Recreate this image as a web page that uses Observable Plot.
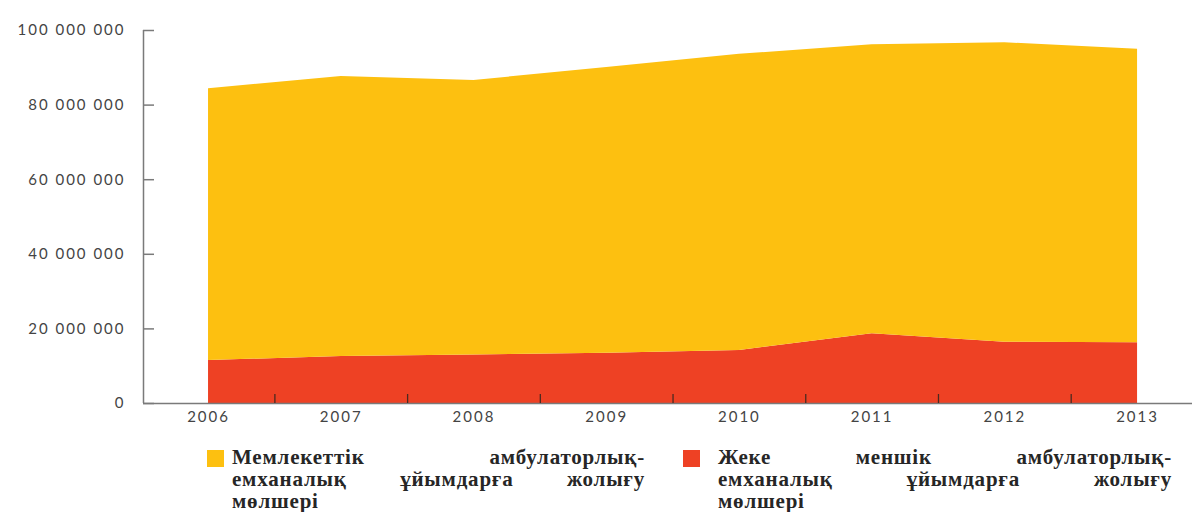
<!DOCTYPE html>
<html>
<head>
<meta charset="utf-8">
<script src="https://cdn.jsdelivr.net/npm/d3@7"></script>
<script src="https://cdn.jsdelivr.net/npm/@observablehq/plot@0.6"></script>
<style>
  html, body { margin: 0; padding: 0; background: #fff; overflow: hidden; }
  #chart svg { display: block; }
  .legend { position: relative; height: 80px; font-family: "Liberation Serif", "Times New Roman", serif; font-size: 21px; font-weight: bold; color: #262626; letter-spacing: 0.8px; }
  .swatch { position: absolute; width: 17px; height: 17px; }
  .text { position: absolute; }
  .line { display: flex; justify-content: space-between; height: 22px; line-height: 22px; white-space: nowrap; }
  .line.last { justify-content: flex-start; }
</style>
</head>
<body>
<div id="chart"></div>
<div class="legend" id="legend"></div>
<script>
const years = [2006, 2007, 2008, 2009, 2010, 2011, 2012, 2013];
const privateVisits = [11.5e6, 12.6e6, 13.0e6, 13.5e6, 14.2e6, 18.7e6, 16.4e6, 16.3e6];
const stateVisits   = [72.9e6, 75.1e6, 73.6e6, 76.6e6, 79.4e6, 77.5e6, 80.3e6, 78.7e6];
const seriesNames = [
  "Жеке меншік амбулаторлық-емханалық ұйымдарға жолығу мөлшері",
  "Мемлекеттік амбулаторлық-емханалық ұйымдарға жолығу мөлшері"
];
const yTicks = [0, 20e6, 40e6, 60e6, 80e6, 100e6];
const colors = ["#EE4124", "#FDC010"];

const data = [];
years.forEach((yr, i) => {
  data.push({year: yr, series: seriesNames[0], value: privateVisits[i]});
  data.push({year: yr, series: seriesNames[1], value: stateVisits[i]});
});
const mids = years.slice(0, -1).map((y, i) => (y + years[i + 1]) / 2);
const fmt = d => d === 0 ? "0" : d3.format(",")(d).replace(/,/g, " ");

const xDomain = [2005.51, 2013.414];
const plot = Plot.plot({
  width: 1192,
  height: 432,
  marginLeft: 143,
  marginRight: 0,
  marginTop: 30,
  marginBottom: 29,
  style: {fontFamily: "Lato, sans-serif", fontSize: "15px", background: "#fff"},
  x: {type: "linear", domain: xDomain, label: null},
  y: {domain: [0, 100e6], label: null},
  color: {domain: seriesNames, range: colors},
  marks: [
    Plot.areaY(data, {x: "year", y: "value", fill: "series", z: "series", order: seriesNames}),
    Plot.ruleY([0], {stroke: "#7a7a7a", strokeWidth: 1.5}),
    Plot.ruleX([xDomain[0]], {stroke: "#7a7a7a", strokeWidth: 1.5}),
    Plot.axisY({ticks: yTicks, tickSize: -11, text: null, label: null, stroke: "#7a7a7a", strokeWidth: 1.5}),
    Plot.axisY({ticks: yTicks, tickSize: 0, tickPadding: 18, tickFormat: fmt, fill: "#444", label: null, fontSize: 15}),
    Plot.axisX({ticks: mids, tickSize: -9, text: null, label: null, stroke: "#4a2a20", strokeWidth: 1.3}),
    Plot.axisX({ticks: years, tickSize: 0, tickPadding: 8, tickFormat: d => String(d), fill: "#444", label: null, fontSize: 15})
  ]
});
plot.querySelectorAll("text").forEach(t => t.style.letterSpacing = "2px");
document.getElementById("chart").appendChild(plot);

// Legend (state first, then private), justified lines
const legend = document.getElementById("legend");
const legendItems = [
  {name: seriesNames[1], color: colors[1], left: 207, textLeft: 232, width: 413},
  {name: seriesNames[0], color: colors[0], left: 683, textLeft: 718, width: 454}
];
legendItems.forEach(it => {
  const words = it.name.replace("-", "- ").split(" ");
  const n = words.length;
  const l1 = words.slice(0, n - 4);
  const l2 = words.slice(n - 4, n - 1);
  const l3 = words.slice(n - 1);
  const sw = document.createElement("div");
  sw.className = "swatch";
  sw.style.left = it.left + "px";
  sw.style.top = "18px";
  sw.style.background = it.color;
  legend.appendChild(sw);
  const tx = document.createElement("div");
  tx.className = "text";
  tx.style.left = it.textLeft + "px";
  tx.style.width = it.width + "px";
  tx.style.top = "14px";
  [l1, l2, l3].forEach((ln, k) => {
    const l = document.createElement("div");
    l.className = "line" + (k === 2 ? " last" : "");
    ln.forEach(w => { const s = document.createElement("span"); s.textContent = w; l.appendChild(s); });
    tx.appendChild(l);
  });
  legend.appendChild(tx);
});
</script>
</body>
</html>
